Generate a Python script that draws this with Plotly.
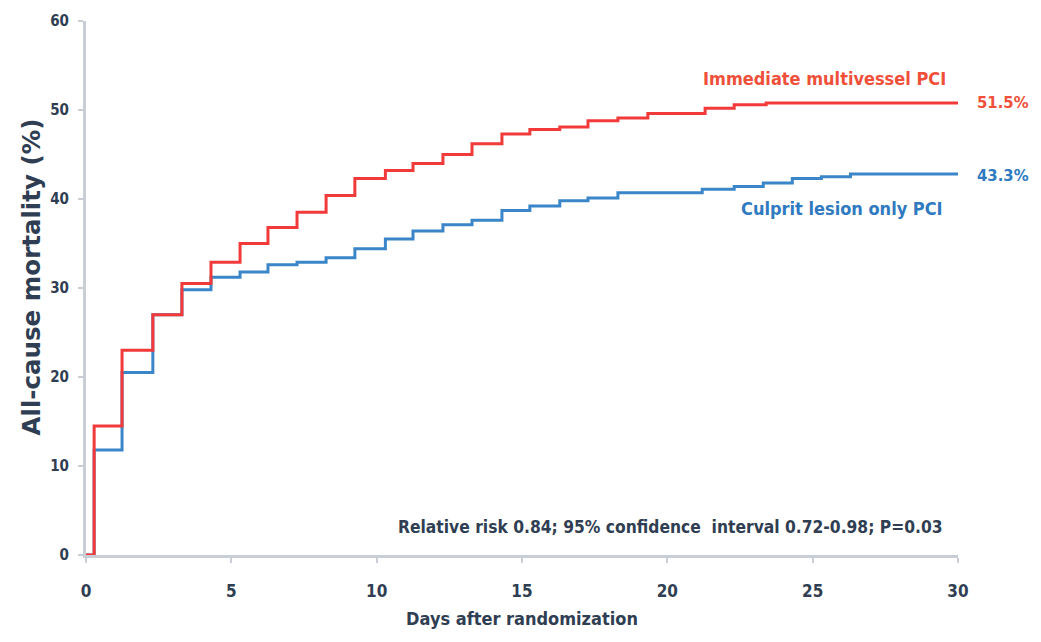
import plotly.graph_objects as go

# Step times (days) and cumulative mortality (%)
red_days = [0, 0.28, 1.24, 2.3, 3.3, 4.3, 5.3, 6.26, 7.26, 8.26, 9.25, 10.3, 11.25, 12.28,
            13.28, 14.31, 15.27, 16.3, 17.27, 18.3, 19.33, 21.3, 22.3, 23.4, 30]
red_vals = [0, 14.5, 23.0, 27.0, 30.5, 32.9, 35.0, 36.8, 38.5, 40.4, 42.3, 43.2, 44.0, 45.0,
            46.2, 47.3, 47.8, 48.1, 48.8, 49.1, 49.6, 50.2, 50.6, 50.8, 50.8]

blue_days = [0, 0.28, 1.24, 2.3, 3.3, 4.3, 5.3, 6.26, 7.26, 8.26, 9.25, 10.3, 11.25, 12.28,
             13.28, 14.31, 15.27, 16.3, 17.27, 18.3, 21.2, 22.3, 23.3, 24.3, 25.3, 26.3, 30]
blue_vals = [0, 11.8, 20.5, 27.0, 29.8, 31.2, 31.8, 32.6, 32.9, 33.4, 34.4, 35.5, 36.4, 37.1,
             37.6, 38.7, 39.2, 39.8, 40.1, 40.7, 41.1, 41.4, 41.8, 42.3, 42.5, 42.8, 42.8]

x_ticks = [0, 5, 10, 15, 20, 25, 30]
y_ticks = [0, 10, 20, 30, 40, 50, 60]

red_name = "Immediate multivessel PCI"
blue_name = "Culprit lesion only PCI"
red_final = "51.5%"
blue_final = "43.3%"
stats_text = "Relative risk 0.84; 95% confidence  interval 0.72-0.98; P=0.03"
y_title = "All-cause mortality (%)"
x_title = "Days after randomization"

RED = "#f23a3a"
BLUE = "#3a86c8"
RED_TXT = "#f0503a"
BLUE_TXT = "#2f7ac0"
TXT = "#2f3e52"
AXC = "#c9ced6"
NARROW = "Liberation Sans Narrow, DejaVu Sans Condensed, Arial Narrow, sans-serif"

fig = go.Figure()
fig.add_trace(go.Scatter(x=blue_days, y=blue_vals, mode="lines",
                         line=dict(color=BLUE, width=3, shape="hv"), name=blue_name))
fig.add_trace(go.Scatter(x=red_days, y=red_vals, mode="lines",
                         line=dict(color=RED, width=3, shape="hv"), name=red_name))

ann_font = dict(family=NARROW, size=18, weight="bold")
fig.add_annotation(x=29.65, y=53.5, xref="x", yref="y", text=red_name, showarrow=False,
                   xanchor="right", yanchor="middle", font=dict(ann_font, color=RED_TXT))
fig.add_annotation(x=29.55, y=38.9, xref="x", yref="y", text=blue_name, showarrow=False,
                   xanchor="right", yanchor="middle", font=dict(ann_font, color=BLUE_TXT))
fig.add_annotation(x=1.019, y=50.8, xref="paper", yref="y", text=red_final, showarrow=False,
                   xanchor="left", yanchor="middle",
                   font=dict(family=NARROW, size=16.5, weight="bold", color=RED_TXT))
fig.add_annotation(x=1.019, y=42.6, xref="paper", yref="y", text=blue_final, showarrow=False,
                   xanchor="left", yanchor="middle",
                   font=dict(family=NARROW, size=16.5, weight="bold", color=BLUE_TXT))
fig.add_annotation(x=29.55, y=3.1, xref="x", yref="y", text=stats_text, showarrow=False,
                   xanchor="right", yanchor="middle",
                   font=dict(family=NARROW, size=17.3, color=TXT, weight="bold"))
fig.add_annotation(x=-0.063, y=0.52, xref="paper", yref="paper", text=y_title, showarrow=False,
                   textangle=-90, xanchor="center", yanchor="middle",
                   font=dict(family="DejaVu Sans", size=24.5, color=TXT, weight="bold"))

fig.update_layout(
    width=1033, height=634,
    margin=dict(l=78, r=83, t=13, b=87, autoexpand=False),
    paper_bgcolor="white", plot_bgcolor="white",
    showlegend=False,
    xaxis=dict(range=[0, 30], tickvals=x_ticks, showgrid=False, zeroline=False,
               automargin=False,
               showline=True, linecolor=AXC, linewidth=3,
               ticks="outside", ticklen=5, tickcolor=AXC, tickwidth=2,
               ticklabelstandoff=14,
               tickfont=dict(family=NARROW, size=17, color=TXT, weight="bold"),
               title=dict(text=x_title, standoff=12,
                          font=dict(family=NARROW, size=18, color=TXT, weight="bold"))),
    yaxis=dict(range=[0, 60], tickvals=y_ticks, showgrid=False, zeroline=False,
               automargin=False,
               showline=True, linecolor=AXC, linewidth=3,
               ticks="outside", ticklen=5, tickcolor=AXC, tickwidth=2,
               ticklabelstandoff=6,
               tickfont=dict(family=NARROW, size=15, color=TXT, weight="bold")),
)

fig.write_html("out.html")
